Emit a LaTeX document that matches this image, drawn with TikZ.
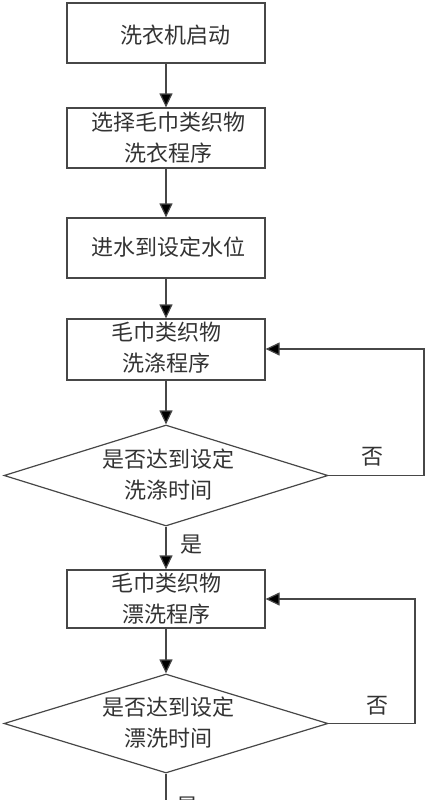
\documentclass[tikz,border=0pt]{standalone}
\usepackage{fontspec}
\setmainfont{Noto Sans CJK SC}[Scale=1]
\usetikzlibrary{shapes.geometric,arrows.meta}
\tikzset{
  ln/.style={draw=black!72, line width=1.2pt},
  arr/.style={ln, -{Triangle[length=14pt,width=13pt,fill=black]}},
  procbox/.style={ln, rectangle, minimum width=198pt, inner sep=0pt, anchor=center},
  dia/.style={ln, diamond, minimum width=324pt, inner sep=0pt},
  txt/.style={font=\fontsize{22pt}{31pt}\selectfont\color{black!80}, align=center, inner sep=0pt},
}
\begin{document}
\begin{tikzpicture}[x=1pt,y=-1pt]
\useasboundingbox (0,0) rectangle (426,800);
\clip (0,0) rectangle (426,800);
% boxes
\node[procbox, minimum height=60pt] (b1) at (166,33) {};
\node[txt] (t1) at (175,35) {洗衣机启动};
\node[procbox, minimum height=60pt] (b2) at (166,138) {};
\node[txt] (t2) at (168,138) {选择毛巾类织物\\洗衣程序};
\node[procbox, minimum height=60pt] (b3) at (166,248) {};
\node[txt] (t3) at (168,247) {进水到设定水位};
\node[procbox, minimum height=61pt] (b4) at (166,349.5) {};
\node[txt] (t4) at (166,348) {毛巾类织物\\洗涤程序};
\node[dia, minimum height=101pt] (d1) at (166,475.5) {};
\node[txt] (t5) at (168,475) {是否达到设定\\洗涤时间};
\node[procbox, minimum height=58pt] (b5) at (166,599) {};
\node[txt] (t6) at (166,599) {毛巾类织物\\漂洗程序};
\node[dia, minimum height=99pt] (d2) at (166,723.5) {};
\node[txt] (t7) at (168,723) {是否达到设定\\漂洗时间};
% labels
\node[txt] (n1) at (372,457) {否};
\node[txt] (y1) at (191,545) {是};
\node[txt] (n2) at (377,706) {否};
\node[txt] (y2) at (187,807) {是};
% corner coordinates
\coordinate (c1a) at (424,475.5);
\coordinate (c1b) at (424,349);
\coordinate (c2a) at (415,723.5);
\coordinate (c2b) at (415,599);
\coordinate (endp) at (166,812);
% connectors
\draw[arr] (b1.south) -- (b2.north);
\draw[arr] (b2.south) -- (b3.north);
\draw[arr] (b3.south) -- (b4.north);
\draw[arr] (b4.south) -- (d1.north);
\draw[arr] (d1.south) -- (b5.north);
\draw[arr] (b5.south) -- (d2.north);
\draw[ln] (d2.south) -- (endp);
\draw[arr] (d1.east) -- (c1a) -- (c1b) -- (b4.east |- c1b);
\draw[arr] (d2.east) -- (c2a) -- (c2b) -- (b5.east |- c2b);
\end{tikzpicture}
\end{document}
